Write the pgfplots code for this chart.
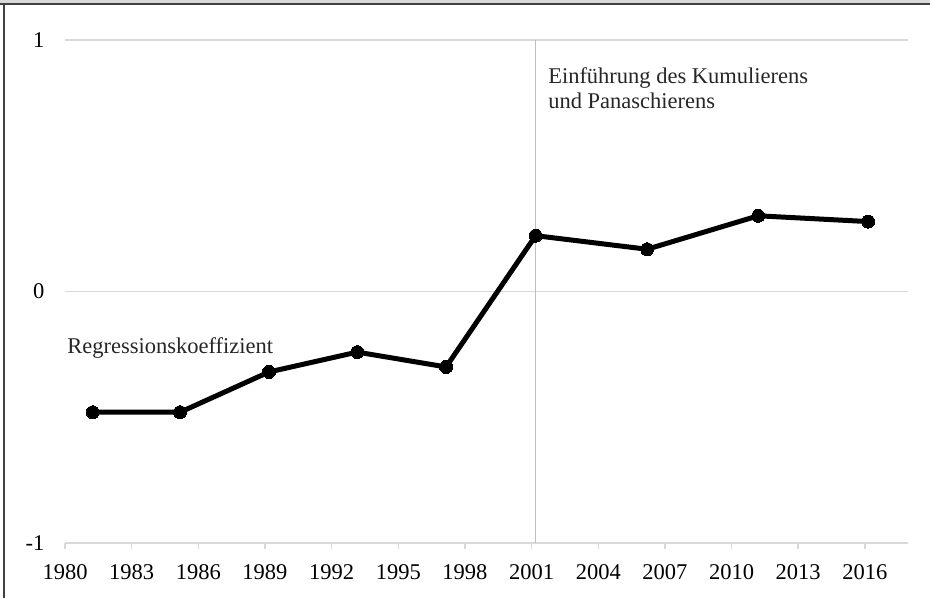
\documentclass[border=0pt]{standalone}
\usepackage{fontspec}
\setmainfont{Liberation Serif}
\usepackage{pgfplots}
\pgfplotsset{compat=1.18}
\definecolor{gridgray}{HTML}{D9D9D9}
\definecolor{axisgray}{HTML}{BFBFBF}
\definecolor{framegray}{HTML}{404040}
\begin{document}
\fontsize{22.5bp}{27bp}\selectfont
\begin{tikzpicture}
\path[use as bounding box] (0,0) rectangle (930bp,598bp);
\fill[gridgray] (0,594bp) rectangle (930bp,598bp);
\draw[line width=2bp, framegray] (0,593.7bp) -- (930bp,593.7bp);
\draw[line width=2bp, framegray] (3.7bp,0) -- (3.7bp,593.7bp);
\begin{axis}[
  at={(65bp,55bp)}, anchor=south west,
  width=843bp, height=503bp, scale only axis,
  xmin=1980, xmax=2017.94, ymin=-1, ymax=1,
  enlargelimits=false,
  axis lines*=left,
  x axis line style={draw=gridgray, line width=1.5bp, -},
  y axis line style={draw=none},
  xtick={1980,1983,...,2016},
  ytick={-1,0,1},
  ymajorgrids,
  grid style={draw=gridgray, line width=1.5bp},
  tick align=outside,
  major tick length=6bp,
  xtick style={draw=gridgray, line width=1.5bp},
  ytick style={draw=none},
  /pgf/number format/1000 sep={},
  /pgf/number format/assume math mode=true,
  tick label style={font=\fontsize{22.5bp}{27bp}\selectfont},
  xticklabel style={yshift=-8bp},
  yticklabel style={xshift=-7bp},
  clip=false,
]
\addplot[axisgray, line width=1.5bp] coordinates {(2001.18,-1) (2001.18,1)};
\addplot[black, line width=5bp, mark=*, mark size=6.5bp, mark options={fill=black, line width=0bp}] coordinates {
(1981.25,-0.480)
(1985.18,-0.480)
(1989.18,-0.320)
(1993.15,-0.241)
(1997.15,-0.300)
(2001.18,0.222)
(2006.20,0.168)
(2011.20,0.301)
(2016.15,0.278)
};
\node[anchor=base west, inner sep=0pt, text=black!85] at (axis cs:2001.74,0.829) {Einführung des Kumulierens};
\node[anchor=base west, inner sep=0pt, text=black!85] at (axis cs:2001.74,0.729) {und Panaschierens};
\node[anchor=base west, inner sep=0pt, text=black!85] at (axis cs:1980.1,-0.245) {Regressionskoeffizient};
\end{axis}
\end{tikzpicture}
\end{document}
